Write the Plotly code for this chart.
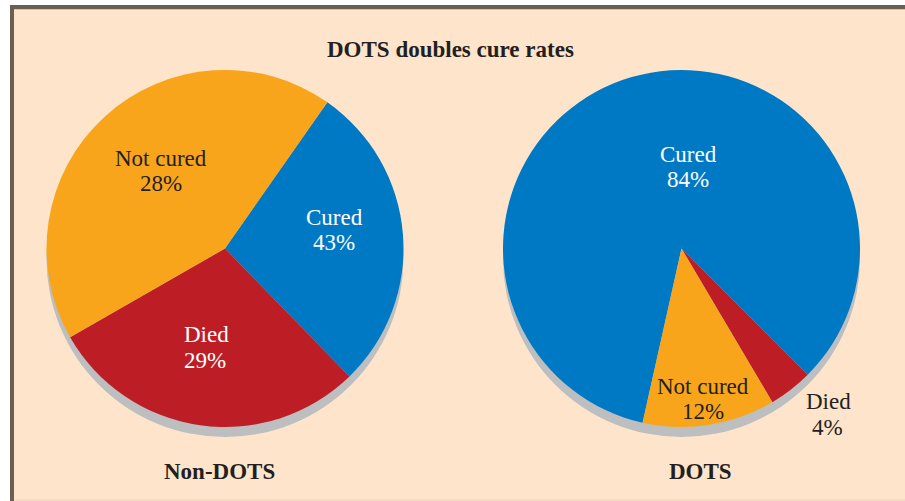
import plotly.graph_objects as go

# ---- data ----
categories = ["Cured", "Died", "Not cured"]
# slice shares as drawn in the reference picture (clockwise order)
non_dots_share = [28, 29, 43]
dots_share = [84, 4, 12]
# percentages printed on the labels
non_dots_pct_labels = ["43%", "29%", "28%"]
dots_pct_labels = ["84%", "4%", "12%"]
panel_titles = ["Non-DOTS", "DOTS"]
chart_title = "DOTS doubles cure rates"

# ---- style ----
W, H = 905, 501
colors = ["#0079C5", "#BD1E26", "#F8A51C"]
shadow_color = "#BCBEC0"
bg_color = "#FEE4CA"
border_color = "#6B5E53"
dark_text = "#231F20"
FONT = "Liberation Serif"


def px_x(x):
    return x / W


def px_y(y):
    return 1 - y / H


def domain(cx, cy, r):
    return dict(x=[px_x(cx - r), px_x(cx + r)], y=[px_y(cy + r), px_y(cy - r)])


R = 178.5
centers = [(225, 248.5), (681.5, 248.5)]
rotations = [35, 192.6]
shadow_dy = 10
shares = [non_dots_share, dots_share]

fig = go.Figure()
for (cx, cy), rot, vals in zip(centers, rotations, shares):
    fig.add_trace(go.Pie(
        values=[1], labels=["shadow"], domain=domain(cx, cy + shadow_dy, R),
        marker=dict(colors=[shadow_color], line=dict(width=0)),
        textinfo="none", hoverinfo="skip", sort=False, showlegend=False,
    ))
    fig.add_trace(go.Pie(
        values=vals, labels=categories, domain=domain(cx, cy, R),
        marker=dict(colors=colors, line=dict(width=0)),
        textinfo="none", sort=False, direction="clockwise", rotation=rot,
        showlegend=False, hoverinfo="label",
    ))

annotations = []


def add_text(text, x, y, size=23, color=dark_text, bold=False):
    annotations.append(dict(
        text=f"<b>{text}</b>" if bold else text,
        x=px_x(x), y=px_y(y), xref="paper", yref="paper",
        xanchor="center", yanchor="middle", showarrow=False,
        font=dict(family=FONT, size=size, color=color),
    ))


# left pie labels
add_text(categories[2], 161, 158)
add_text(non_dots_pct_labels[2], 161, 183)
add_text(categories[0], 334, 218, color="white")
add_text(non_dots_pct_labels[0], 334, 243, color="white")
add_text(categories[1], 206, 334, color="white")
add_text(non_dots_pct_labels[1], 205, 360, color="white")
# right pie labels
add_text(categories[0], 688, 154, color="white")
add_text(dots_pct_labels[0], 688, 179, color="white")
add_text(categories[2], 703, 386)
add_text(dots_pct_labels[2], 703, 411)
add_text(categories[1], 828, 401)
add_text(dots_pct_labels[1], 827, 427)
# titles
add_text(chart_title, 450, 50, bold=True)
add_text(panel_titles[0], 219, 471, bold=True)
add_text(panel_titles[1], 700, 471, bold=True)

shapes = [
    dict(type="rect", xref="paper", yref="paper", x0=px_x(10), x1=px_x(W + 20),
         y0=px_y(H + 20), y1=px_y(5), fillcolor=bg_color, line=dict(width=0), layer="below"),
    dict(type="rect", xref="paper", yref="paper", x0=px_x(14), x1=px_x(W + 20),
         y0=px_y(H + 20), y1=px_y(499.5), fillcolor="#F6DAC0", line=dict(width=0), layer="below"),
    dict(type="rect", xref="paper", yref="paper", x0=px_x(10), x1=px_x(14),
         y0=px_y(H + 20), y1=px_y(5), fillcolor=border_color, line=dict(width=0), layer="below"),
    dict(type="rect", xref="paper", yref="paper", x0=px_x(10), x1=px_x(W + 20),
         y0=px_y(9.3), y1=px_y(5), fillcolor=border_color, line=dict(width=0), layer="below"),
]

fig.update_layout(
    width=W, height=H, margin=dict(l=0, r=0, t=0, b=0),
    paper_bgcolor="white", plot_bgcolor="white",
    annotations=annotations, shapes=shapes, showlegend=False,
)

fig.write_html(
    "out.html",
    config={"displayModeBar": False},
    post_script="document.body.style.margin='0';document.body.style.overflow='hidden';",
)
